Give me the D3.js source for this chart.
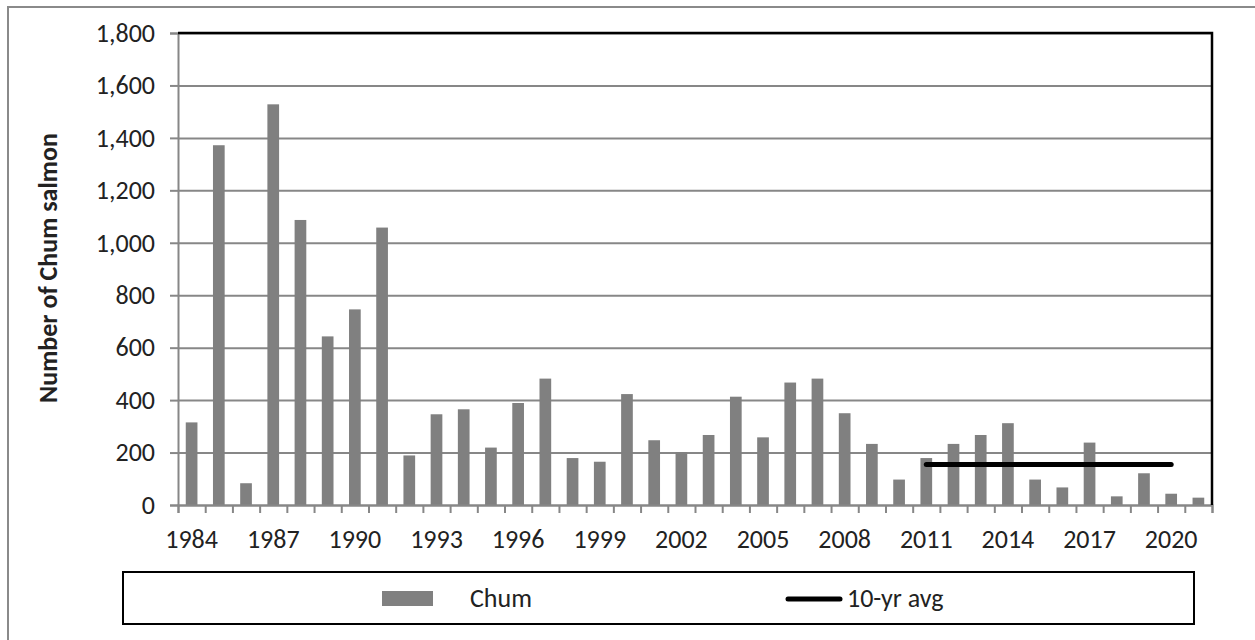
<!DOCTYPE html>
<html>
<head>
<meta charset="utf-8">
<script src="https://cdn.jsdelivr.net/npm/d3@7"></script>
<style>
  html, body { margin: 0; padding: 0; background: #fff; }
  svg { display: block; font-family: Carlito, Lato, "Open Sans", sans-serif; }
</style>
</head>
<body>
<svg id="chart" width="1255" height="640"></svg>
<script>
// Annual chum salmon counts
const years = d3.range(1984, 2022);
const chum = [
  315, 1372, 83, 1528, 1087, 643, 746, 1058, 189, 346,
  365, 219, 389, 482, 179, 165, 423, 247, 202, 267,
  413, 258, 467, 482, 350, 233, 97, 179, 233, 267,
  312, 97, 67, 238, 33, 121, 43, 28
];
// Ten-year average line (2011–2020)
const avgYears = [2011, 2012, 2013, 2014, 2015, 2016, 2017, 2018, 2019, 2020];
const avgValues = [154, 154, 154, 154, 154, 154, 154, 154, 154, 154];
const yTicks = [0, 200, 400, 600, 800, 1000, 1200, 1400, 1600, 1800];
const labelYears = [1984, 1987, 1990, 1993, 1996, 1999, 2002, 2005, 2008, 2011, 2014, 2017, 2020];
const seriesNames = ["Chum", "10-yr avg"];

const svg = d3.select("#chart");
const plot = { left: 178, right: 1212, top: 33, bottom: 505 };
const grey = "#878787";
const textColor = "#222";
const fontSize = "26px";

// outer chart frame
svg.append("rect")
  .attr("x", 8).attr("y", 7).attr("width", 1270).attr("height", 660)
  .attr("fill", "none").attr("stroke", "#8a8a8a").attr("stroke-width", 2);

const x = d3.scaleBand().domain(years).range([plot.left, plot.right]).padding(0);
const xi = d3.scaleLinear().domain([0, years.length]).range([plot.left, plot.right]);
const y = d3.scaleLinear().domain([0, 1800]).range([plot.bottom, plot.top]);

// horizontal gridlines
const grid = svg.append("g")
  .attr("transform", `translate(${plot.left},0)`)
  .call(d3.axisLeft(y).tickValues(yTicks).tickSize(-(plot.right - plot.left)).tickFormat(""));
grid.select(".domain").remove();
grid.selectAll("line").attr("stroke", grey).attr("stroke-width", 2);

// bars
const barW = x.bandwidth() * 0.43;
svg.append("g").selectAll("rect")
  .data(years.map((yr, i) => ({ yr, v: chum[i] })))
  .join("rect")
  .attr("x", d => x(d.yr) + (x.bandwidth() - barW) / 2)
  .attr("y", d => y(d.v))
  .attr("width", barW)
  .attr("height", d => y(0) - y(d.v))
  .attr("fill", "#808080");

// y axis
const yAxis = svg.append("g")
  .attr("transform", `translate(${plot.left},0)`)
  .call(d3.axisLeft(y).tickValues(yTicks).tickSize(8).tickPadding(15).tickFormat(d3.format(",")));
yAxis.select(".domain").attr("stroke", grey).attr("stroke-width", 2);
yAxis.selectAll("line").attr("stroke", grey).attr("stroke-width", 2);
yAxis.selectAll("text").attr("fill", textColor).style("font-size", fontSize)
  .style("font-family", "Carlito, Lato, sans-serif");

// x axis: ticks at category boundaries
const xAxis = svg.append("g")
  .attr("transform", `translate(0,${plot.bottom})`)
  .call(d3.axisBottom(xi).tickValues(d3.range(years.length + 1)).tickSize(8).tickFormat(""));
xAxis.select(".domain").attr("stroke", grey).attr("stroke-width", 2);
xAxis.selectAll("line").attr("stroke", grey).attr("stroke-width", 2);

// year labels every third year
svg.append("g").selectAll("text")
  .data(labelYears)
  .join("text")
  .attr("x", d => x(d) + x.bandwidth() / 2)
  .attr("y", 548)
  .attr("text-anchor", "middle")
  .attr("fill", textColor)
  .style("font-size", fontSize)
  .text(d => d);

// plot area top and right border
svg.append("path")
  .attr("d", `M${plot.left},${plot.top}H${plot.right}V${plot.bottom}`)
  .attr("fill", "none").attr("stroke", "#000").attr("stroke-width", 2.5);

// ten-year average line
const line = d3.line().x(d => x(d.yr) + x.bandwidth() / 2).y(d => y(d.v));
svg.append("path")
  .datum(avgYears.map((yr, i) => ({ yr, v: avgValues[i] })))
  .attr("d", line)
  .attr("fill", "none").attr("stroke", "#000").attr("stroke-width", 5)
  .attr("stroke-linecap", "round");

// y axis title
svg.append("text")
  .attr("transform", "translate(57,268) rotate(-90)")
  .attr("text-anchor", "middle")
  .attr("fill", textColor)
  .style("font-size", fontSize)
  .style("font-weight", "bold")
  .text("Number of Chum salmon");

// legend
const legend = svg.append("g");
legend.append("rect")
  .attr("x", 123).attr("y", 572).attr("width", 1071).attr("height", 52)
  .attr("fill", "#fff").attr("stroke", "#000").attr("stroke-width", 2);
legend.append("rect")
  .attr("x", 382).attr("y", 591).attr("width", 51).attr("height", 15)
  .attr("fill", "#808080");
legend.append("text")
  .attr("x", 470).attr("y", 607)
  .attr("fill", textColor).style("font-size", fontSize)
  .text(seriesNames[0]);
legend.append("line")
  .attr("x1", 788).attr("x2", 840).attr("y1", 599).attr("y2", 599)
  .attr("stroke", "#000").attr("stroke-width", 5).attr("stroke-linecap", "round");
legend.append("text")
  .attr("x", 847).attr("y", 607)
  .attr("fill", textColor).style("font-size", fontSize)
  .text(seriesNames[1]);
</script>
</body>
</html>
